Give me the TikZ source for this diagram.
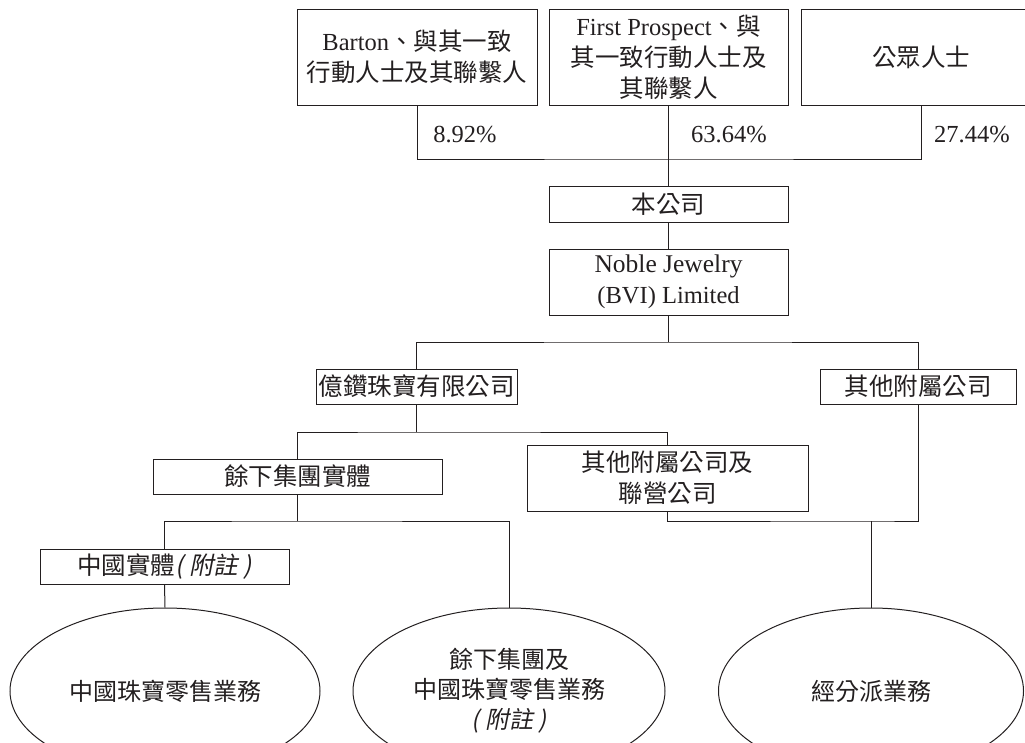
\documentclass[tikz,border=0pt]{standalone}
\usepackage{fontspec}
\setmainfont{Liberation Serif}
\newfontfamily\cjk{Noto Sans CJK TC}
\newfontfamily\cjkit[FakeSlant=0.2]{Noto Sans CJK TC}
\usetikzlibrary{shapes.geometric}
\definecolor{ink}{RGB}{35,31,32}
\begin{document}
\begin{tikzpicture}[x=1pt,y=-1pt,
  box/.style={draw=ink, line width=1pt, rectangle, inner sep=0pt, align=center,
    font=\fontsize{24.5}{31}\selectfont, text=ink},
  oval/.style={draw=ink, line width=1pt, ellipse, inner sep=0pt, align=center,
    minimum height=166pt, font=\fontsize{24}{30}\selectfont\cjk, text=ink},
  pct/.style={inner sep=0pt, font=\fontsize{24.5}{30}\selectfont, text=ink},
  link/.style={draw=ink, line width=1pt}]
\useasboundingbox (0,0) rectangle (1025,742);
\clip (0,0) rectangle (1025,742);
% top row
\node[box, minimum width=240pt, minimum height=96pt] (b1) at (417,57)
  {Barton{\cjk 、與其一致}\\{\cjk 行動人士及其聯繫人}};
\node[box, minimum width=239pt, minimum height=96pt] (b2) at (668.5,57)
  {First Prospect{\cjk 、與}\\{\cjk 其一致行動人士及}\\{\cjk 其聯繫人}};
\node[box, minimum width=240pt, minimum height=96pt] (b3) at (921,57)
  {\cjk 公眾人士};
\node[pct] (p1) at (465,135) {8.92\%};
\node[pct] (p2) at (729,135) {63.64\%};
\node[pct] (p3) at (972,135) {27.44\%};
% company chain
\node[box, minimum width=239pt, minimum height=36pt] (ben) at (668.5,204) {\cjk 本公司};
\node[box, minimum width=239pt, minimum height=66pt] (noble) at (668.5,282)
  {\fontsize{25.5}{29}\selectfont Noble Jewelry\\(BVI) Limited};
\node[box, minimum width=201pt, minimum height=35pt] (yz) at (416.5,386.5) {\cjk 億鑽珠寶有限公司};
\node[box, minimum width=196pt, minimum height=35pt] (qt) at (918,386.5) {\cjk 其他附屬公司};
\node[box, minimum width=289pt, minimum height=35pt] (yx) at (297.5,476.5) {\cjk 餘下集團實體};
\node[box, minimum width=281pt, minimum height=66pt] (qtlj) at (667.5,478)
  {\cjk 其他附屬公司及\\\cjk 聯營公司};
\node[box, minimum width=249pt, minimum height=35pt] (zg) at (164.5,566.5)
  {\cjk 中國實體{\cjkit ( 附註 )}};
% ellipses
\node[oval, minimum width=310pt] (e1) at (165,691) {中國珠寶零售業務};
\node[oval, minimum width=312pt] (e2) at (509,691)
  {餘下集團及\\中國珠寶零售業務\\{\cjkit ( 附註 )}};
\node[oval, minimum width=305pt] (e3) at (871,691) {經分派業務};
% junctions
\coordinate (j1) at (668.5,159);
\coordinate (j2) at (668.5,342);
\coordinate (j3) at (416.5,432);
\coordinate (j4) at (297.5,521);
\coordinate (j5) at (871,521);
% connectors
\draw[link] (b1.south) |- (j1) -| (b3.south);
\draw[link] (b2.south) -- (ben.north);
\draw[link] (ben.south) -- (noble.north);
\draw[link] (noble.south) -- (j2);
\draw[link] (yz.north) |- (j2) -| (qt.north);
\draw[link] (yz.south) -- (j3);
\draw[link] (yx.north) |- (j3) -| (qtlj.north);
\draw[link] (yx.south) -- (j4);
\draw[link] (zg.north) |- (j4) -| (e2.north);
\draw[link] (zg.south) -- (e1.north);
\draw[link] (qtlj.south) |- (j5) -| (qt.south);
\draw[link] (j5) -- (e3.north);
\end{tikzpicture}
\end{document}
